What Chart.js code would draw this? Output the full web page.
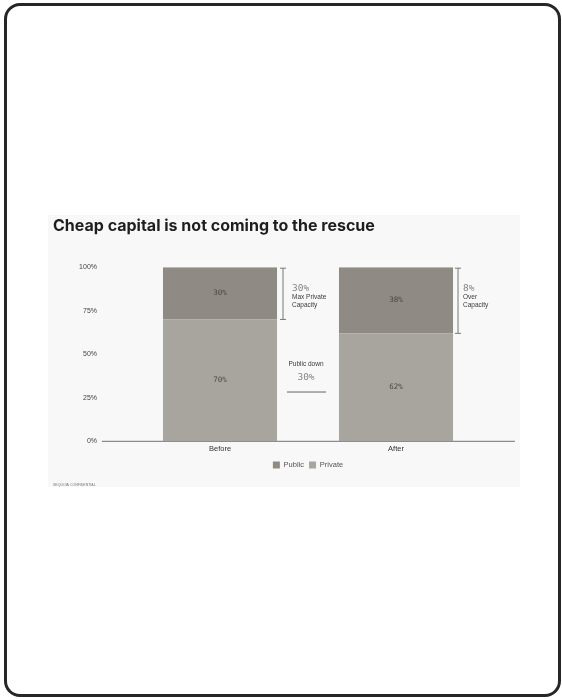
<!DOCTYPE html>
<html>
<head>
<meta charset="utf-8">
<script src="https://cdn.jsdelivr.net/npm/chart.js@4.4.1/dist/chart.umd.min.js"></script>
<style>
    html, body { margin: 0; padding: 0; background: #fff; }
    body { width: 562px; height: 700px; position: relative; overflow: hidden; }
    #frame {
        position: absolute; left: 4px; top: 3px; width: 551px; height: 688px;
        border: 3.5px solid #262626; border-radius: 16px;
    }
    #slide {
        position: absolute; left: 48px; top: 215px; width: 472px; height: 272px;
        background: #f8f8f8;
    }
</style>
</head>
<body>
<div id="frame"></div>
<div id="slide"><canvas id="capital-chart"></canvas></div>
<script>
// chart data
const categories = ['Before', 'After'];
const publicShare = [30, 38];
const privateShare = [70, 62];
const yTicks = [0, 25, 50, 75, 100];

const publicColor = '#8f8a83';
const privateColor = '#a8a49e';

// value labels inside each segment
const segmentLabels = {
    id: 'segmentLabels',
    afterDatasetsDraw(chart) {
        const ctx = chart.ctx;
        ctx.save();
        ctx.font = '7.5px "DejaVu Sans Mono"';
        ctx.fillStyle = '#4a4a4a';
        ctx.textAlign = 'center';
        ctx.textBaseline = 'middle';
        chart.data.datasets.forEach((ds, i) => {
            chart.getDatasetMeta(i).data.forEach((bar, j) => {
                ctx.fillText(ds.data[j] + '%', bar.x, (bar.y + bar.base) / 2);
            });
        });
        ctx.restore();
    }
};

// extended 0% baseline
const baseline = {
    id: 'baseline',
    beforeDatasetsDraw(chart) {
        const ctx = chart.ctx;
        const y = chart.scales.y.getPixelForValue(0);
        ctx.save();
        ctx.strokeStyle = '#8c8c8c';
        ctx.lineWidth = 1.2;
        ctx.beginPath();
        ctx.moveTo(chart.chartArea.left - 30, y);
        ctx.lineTo(chart.chartArea.right + 31, y);
        ctx.stroke();
        ctx.restore();
    }
};

// brackets and side notes
const notes = {
    id: 'notes',
    afterDatasetsDraw(chart) {
        const ctx = chart.ctx;
        const yScale = chart.scales.y;
        const privBars = chart.getDatasetMeta(0).data;
        const pubBars = chart.getDatasetMeta(1).data;

        function bracket(x, yTop, yBottom) {
            ctx.save();
            ctx.strokeStyle = '#777';
            ctx.lineWidth = 1;
            ctx.beginPath();
            ctx.moveTo(x, yTop); ctx.lineTo(x, yBottom);
            ctx.moveTo(x - 3, yTop); ctx.lineTo(x + 3, yTop);
            ctx.moveTo(x - 3, yBottom); ctx.lineTo(x + 3, yBottom);
            ctx.stroke();
            ctx.restore();
        }

        function sideNote(x, big, lines, yTop) {
            ctx.save();
            ctx.textAlign = 'left';
            ctx.textBaseline = 'middle';
            ctx.font = '9.5px "DejaVu Sans Mono"';
            ctx.fillStyle = '#858585';
            ctx.fillText(big, x, yTop + 21);
            ctx.font = '6.5px "Liberation Sans"';
            ctx.fillStyle = '#3a3a3a';
            lines.forEach((t, k) => ctx.fillText(t, x, yTop + 30 + k * 8));
            ctx.restore();
        }

        // before bar
        const b0 = pubBars[0];
        const right0 = b0.x + b0.width / 2;
        const top = yScale.getPixelForValue(100);
        bracket(right0 + 6, top + 1, yScale.getPixelForValue(privateShare[0]));
        sideNote(right0 + 15, publicShare[0] + '%', ['Max Private', 'Capacity'], top);

        // after bar
        const b1 = pubBars[1];
        const right1 = b1.x + b1.width / 2;
        bracket(right1 + 5, top + 1, yScale.getPixelForValue(privateShare[1]));
        sideNote(right1 + 10, (publicShare[1] - publicShare[0]) + '%', ['Over', 'Capacity'], top);

        // public down note between the bars
        const mid = (right0 + (privBars[1].x - privBars[1].width / 2)) / 2;
        ctx.save();
        ctx.textAlign = 'center';
        ctx.textBaseline = 'middle';
        ctx.font = '6.5px "Liberation Sans"';
        ctx.fillStyle = '#3a3a3a';
        ctx.fillText('Public down', mid - 2, yScale.getPixelForValue(44));
        ctx.font = '9.5px "DejaVu Sans Mono"';
        ctx.fillStyle = '#858585';
        ctx.fillText('30%', mid - 2, yScale.getPixelForValue(36.5));
        ctx.strokeStyle = '#666';
        ctx.lineWidth = 1;
        const ly = yScale.getPixelForValue(28.3);
        ctx.beginPath();
        ctx.moveTo(mid - 21, ly);
        ctx.lineTo(mid + 18, ly);
        ctx.stroke();
        ctx.restore();
    }
};

const chart = new Chart(document.getElementById('capital-chart'), {
    type: 'bar',
    data: {
        labels: categories,
        datasets: [
            { label: 'Private', data: privateShare, backgroundColor: privateColor },
            { label: 'Public', data: publicShare, backgroundColor: publicColor }
        ]
    },
    options: {
        responsive: true,
        maintainAspectRatio: false,
        animation: false,
        layout: { padding: { left: 5, right: 36, top: 0, bottom: 0 } },
        datasets: { bar: { categoryPercentage: 1, barPercentage: 0.648 } },
        scales: {
            x: {
                stacked: true,
                grid: { display: false, drawTicks: false },
                border: { display: false },
                ticks: { color: '#333', font: { size: 7.5, family: 'Liberation Sans' }, padding: 3 }
            },
            y: {
                stacked: true,
                min: 0,
                max: 100,
                afterBuildTicks: (scale) => { scale.ticks = yTicks.map(v => ({ value: v })); },
                afterFit: (scale) => { scale.width = 79; },
                grid: { display: false, drawTicks: false },
                border: { display: false },
                ticks: {
                    color: '#444',
                    font: { size: 7, family: 'Liberation Sans' },
                    padding: 35,
                    callback: (v) => v + '%'
                }
            }
        },
        plugins: {
            title: {
                display: true,
                text: 'Cheap capital is not coming to the rescue',
                align: 'start',
                color: '#1e1e1e',
                font: { size: 16, weight: 'bold', family: 'Inter' },
                padding: { top: 2, bottom: 31 }
            },
            subtitle: {
                display: true,
                position: 'bottom',
                align: 'start',
                text: 'SEQUOIA CONFIDENTIAL',
                color: '#777',
                font: { size: 3.5, family: 'Liberation Sans' },
                padding: { top: 4, bottom: 0 }
            },
            legend: {
                position: 'bottom',
                fullSize: false,
                reverse: true,
                labels: {
                    boxWidth: 7,
                    boxHeight: 7,
                    padding: 5,
                    color: '#555',
                    font: { size: 7.5, family: 'Liberation Sans' }
                }
            },
            tooltip: { enabled: false }
        }
    },
    plugins: [baseline, segmentLabels, notes]
});
</script>
</body>
</html>
